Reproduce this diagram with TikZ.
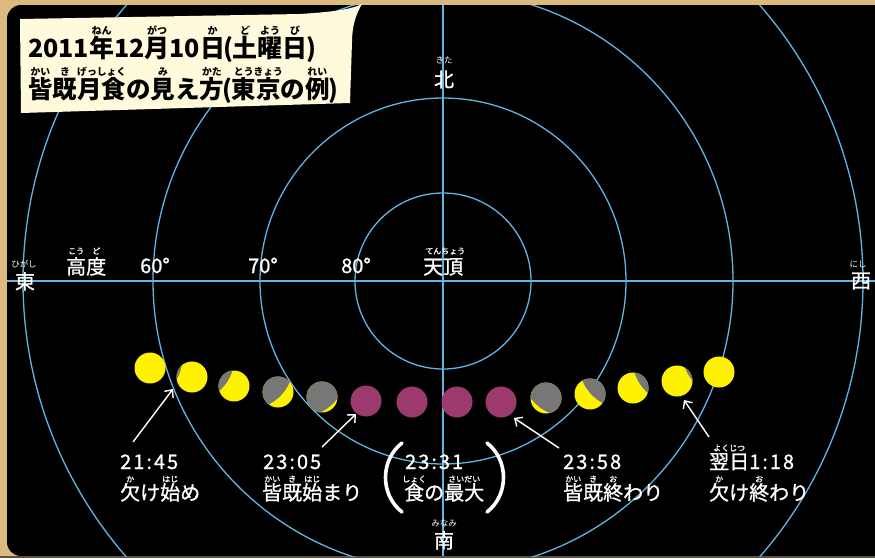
\documentclass[tikz,border=0pt]{standalone}
\usepackage{fontspec}
\setmainfont{Noto Sans CJK JP}
\newfontfamily\labelfont{Noto Sans CJK JP}[FakeBold=1]
\usetikzlibrary{arrows.meta}

\definecolor{wood}{HTML}{DBB97F}
\definecolor{woodedge}{HTML}{5E5040}
\definecolor{gridblue}{HTML}{62B5E3}
\definecolor{paper}{HTML}{FFFADB}
\definecolor{moonyellow}{HTML}{FFF200}
\definecolor{moongray}{HTML}{777777}
\definecolor{umbramoon}{HTML}{9C3A6D}

% ruby (furigana): \rb[raise]{base}{reading}
\newcommand\rb[3][0.9em]{\leavevmode\setbox0=\hbox{#2}%
  \hbox to \wd0{\hss\raisebox{#1}[0pt][0pt]{\fontsize{0.4em}{0.4em}\selectfont #3}\hss}%
  \kern-\wd0\box0\relax}
% clock times are set a little wider
\newcommand\tm[1]{{\addfontfeature{LetterSpace=10}#1}}
% tighter parentheses for the title
\newcommand\lp{\kern-1.5pt(\kern-1pt}
\newcommand\rp{\kern-1pt)}

\begin{document}
\begin{tikzpicture}[x=1pt,y=-1pt,
  gridline/.style={draw=gridblue, line width=1.3pt},
  ttl/.style={text=black, font=\bfseries\fontsize{25}{30}\selectfont, inner sep=0, anchor=base west},
  lbl/.style={text=white, font=\labelfont\fontsize{20}{24}\selectfont, inner sep=0, anchor=base west},
  cmp/.style={text=white, font=\labelfont\fontsize{20}{24}\selectfont, inner sep=0, anchor=base},
  cmpruby/.style={text=white, font=\fontsize{8.5}{9}\selectfont, inner sep=0, anchor=base},
  moon/.style={circle, minimum size=31pt, inner sep=0, fill=moonyellow},
  totality/.style={circle, minimum size=31pt, inner sep=0, fill=umbramoon},
  shadow/.style 2 args={path picture={\fill[moongray]
      ([shift={(-#1:#2)}]path picture bounding box.center) circle[radius=45pt];}},
  arw/.style={draw=white, line width=1.4pt, -{Straight Barb[length=6pt,width=11pt]}},
  paren/.style={draw=white, line width=3.6pt, line cap=round}]

\useasboundingbox (0,0) rectangle (875,558);

% wooden frame and night sky
\fill[wood] (0,0) rectangle (875,558);
\fill[black, rounded corners=14pt] (7,5) rectangle (900,556);
\fill[woodedge] (0,556) rectangle (875,558);

% altitude circles and the two axes
\coordinate (zenith) at (443,281);
\coordinate (eastend) at (7,281);
\coordinate (westend) at (875,281);
\coordinate (northend) at (443,5);
\coordinate (southend) at (443,556);
\begin{scope}
  \clip (7,5) rectangle (875,556);
  \draw[gridline] (zenith) circle[radius=88pt];
  \draw[gridline] (zenith) circle[radius=183pt];
  \draw[gridline] (zenith) circle[radius=290pt];
  \draw[gridline] (zenith) circle[radius=420pt];
  \draw[gridline] (eastend) -- (westend);
  \draw[gridline] (northend) -- (southend);
\end{scope}

% title card
\fill[paper] (20,19) -- (300,14) .. controls (330,12) and (350,10) .. (362,4)
  .. controls (356,14) and (352,26) .. (352,42) -- (350,103) -- (21,113) -- cycle;
\node[ttl] (title1) at (28,57) {2011\rb{年}{ねん}12\rb{月}{がつ}10\rb{日}{か}\lp\rb{土}{ど}\rb{曜}{よう}\rb{日}{び}\rp};
\node[ttl, font=\bfseries\fontsize{24.5}{30}\selectfont] (title2) at (28,98) {\rb{皆}{かい}\rb{既}{き}\rb{月食}{げっしょく}の\rb{見}{み}え\rb{方}{かた}\lp\rb{東}{とう}\rb{京}{きょう}の\rb{例}{れい}\rp};

% compass points
\node[cmp] (north) at (444,87) {北};
\node[cmpruby] (northr) at (444,63) {きた};
\node[cmp] (south) at (444,548) {南};
\node[cmpruby] (southr) at (444,526) {みなみ};
\node[cmp] (east) at (25,289) {東};
\node[cmpruby] (eastr) at (24,267) {ひがし};
\node[cmp] (west) at (861,288) {西};
\node[cmpruby] (westr) at (858,267) {にし};

% altitude scale
\node[lbl] (alt) at (66,274) {\rb[1em]{高}{こう}\rb[1em]{度}{ど}};
\node[lbl] (a60) at (140,273) {60°};
\node[lbl] (a70) at (248,273) {70°};
\node[lbl] (a80) at (341,273) {80°};
\node[lbl] (top) at (423,274) {\rb[1em]{天}{てん}\rb[1em]{頂}{ちょう}};

% the moon along its path, east to west
\node[moon] (m1) at (150,368) {};
\node[moon, shadow={160}{58}] (m2) at (192,377) {};
\node[moon, shadow={147}{53}] (m3) at (234,386) {};
\node[moon, shadow={137}{40.5}] (m4) at (278,392) {};
\node[moon, shadow={129}{32.7}] (m5) at (322,397) {};
\node[totality] (m6) at (366,401) {};
\node[totality] (m7) at (412,402) {};
\node[totality] (m8) at (457,402) {};
\node[totality] (m9) at (501,402) {};
\node[moon, shadow={52}{33.8}] (m10) at (546,398) {};
\node[moon, shadow={42}{45.7}] (m11) at (590,394) {};
\node[moon, shadow={33}{53}] (m12) at (633,388) {};
\node[moon, shadow={30}{58}] (m13) at (677,381) {};
\node[moon] (m14) at (719,372) {};

% time labels
\node[lbl] (t1) at (120,469) {\tm{21:45}};
\node[lbl] (p1) at (120,500) {\rb{欠}{か}け\rb{始}{はじ}め};
\node[lbl] (t2) at (263,469) {\tm{23:05}};
\node[lbl] (p2) at (262,500) {\rb{皆}{かい}\rb{既}{き}\rb{始}{はじ}まり};
\node[lbl] (t3) at (405,469) {\tm{23:31}};
\node[lbl] (p3) at (404,500) {\rb{食}{しょく}の\rb{最大}{さいだい}};
\node[lbl] (t4) at (563,469) {\tm{23:58}};
\node[lbl] (p4) at (563,500) {\rb{皆}{かい}\rb{既}{き}\rb{終}{お}わり};
\node[lbl] (t5) at (709,469) {\rb{翌日}{よくじつ}\tm{1:18}};
\node[lbl] (p5) at (709,500) {\rb{欠}{か}け\rb{終}{お}わり};

% brackets around the greatest eclipse
\coordinate (lpt) at (402,443);
\coordinate (lpb) at (402,512);
\coordinate (rpt) at (487,443);
\coordinate (rpb) at (487,512);
\draw[paren] (lpt) .. controls (380,460) and (380,495) .. (lpb);
\draw[paren] (rpt) .. controls (509,460) and (509,495) .. (rpb);

% pointers from labels to moons
\coordinate (s1) at (133,442); \coordinate (e1) at (173,389);
\coordinate (s2) at (322,447); \coordinate (e2) at (356,414);
\coordinate (s3) at (559,448); \coordinate (e3) at (514,418);
\coordinate (s4) at (709,437); \coordinate (e4) at (684,400);
\draw[arw] (s1) -- (e1);
\draw[arw] (s2) -- (e2);
\draw[arw] (s3) -- (e3);
\draw[arw] (s4) -- (e4);
\end{tikzpicture}
\end{document}
